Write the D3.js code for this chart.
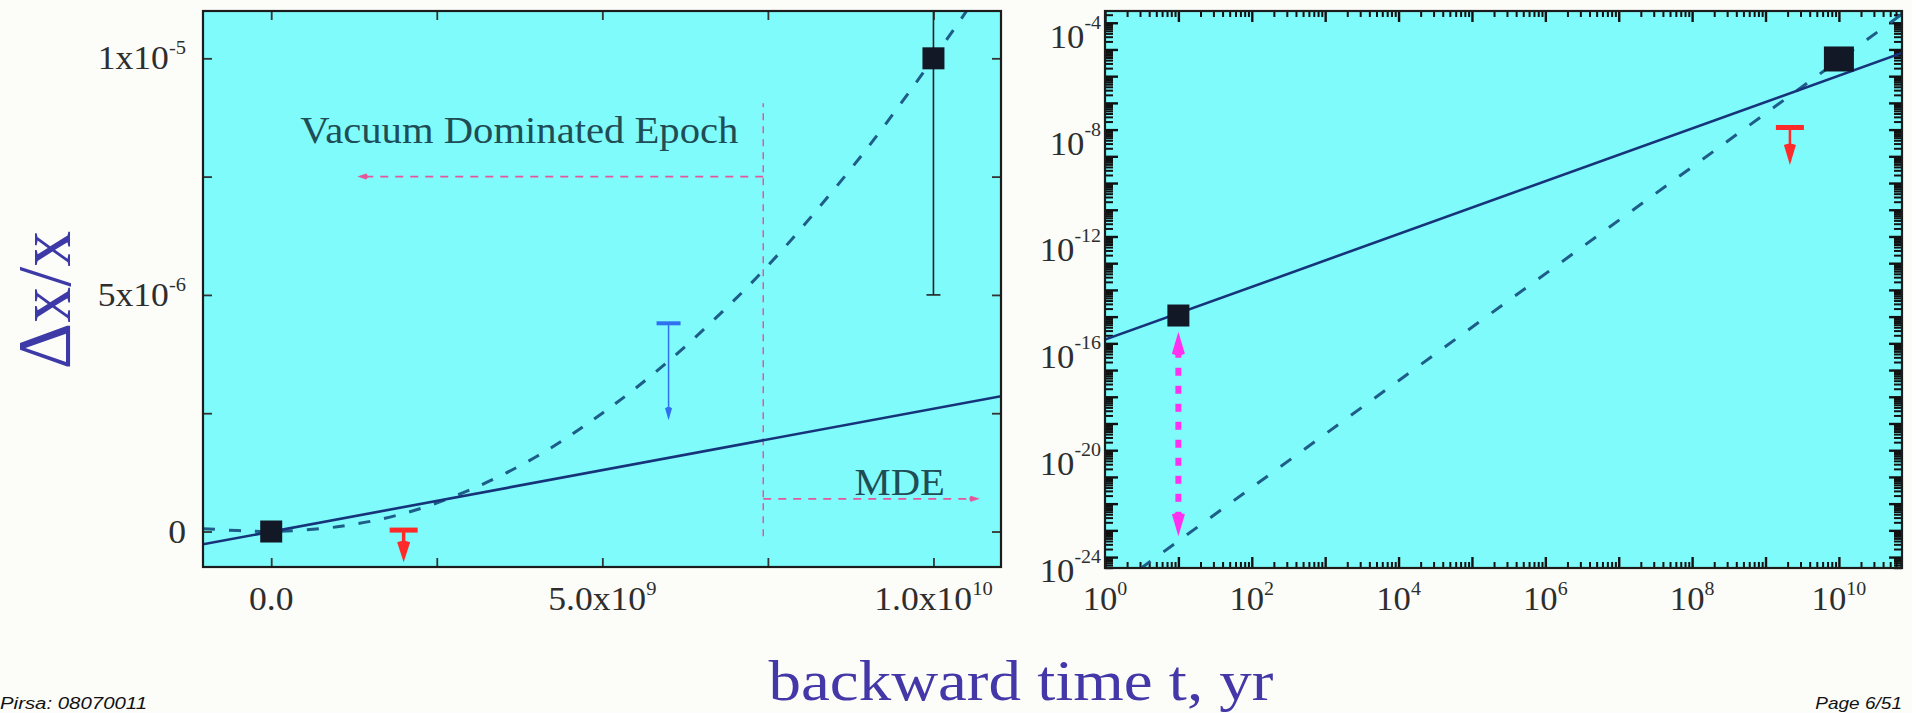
<!DOCTYPE html>
<html><head><meta charset="utf-8">
<script src="https://cdn.jsdelivr.net/npm/d3@7"></script>
<style>
html,body{margin:0;padding:0;background:#fcfdf9;}
svg{display:block;}
</style></head><body>
<svg id="chart" width="1912" height="713"></svg>
<script>
// ================= DATA =================
// ---- left panel (linear) ----
const leftXDomain = [-1.03e9, 11.02e9];
const leftYDomain = [-0.75e-6, 11.0e-6];
const leftXTicks = [0, 2.5e9, 5e9, 7.5e9, 1e10];
const leftYTicks = [0, 2.5e-6, 5e-6, 7.5e-6, 1e-5];
const leftXLabelVals = [0, 5e9, 1e10];
const leftXLabelBase = ["0.0", "5.0x10", "1.0x10"];
const leftXLabelSup = ["", "9", "10"];
const leftYLabelVals = [0, 5e-6, 1e-5];
const leftYLabelBase = ["0", "5x10", "1x10"];
const leftYLabelSup = ["", "-6", "-5"];

const leftPointT = [0, 1e10];
const leftPointV = [0, 1e-5];
const leftErrT = [1e10];
const leftErrLo = [5e-6];
const leftErrHi = [1.5e-5];
const leftSolidT = [-1.03e9, 11.02e9];
const leftSolidV = [-0.27e-6, 2.86e-6];
const leftDashT = [-1.03e9, -0.5e9, 0, 1e9, 2e9, 3e9, 4e9, 5e9, 6e9, 7e9, 7.5e9, 8e9, 9e9, 10e9, 10.5e9];
const leftDashV = [0.06e-6, 0.02e-6, 0, 0.1e-6, 0.38e-6, 0.88e-6, 1.58e-6, 2.5e-6, 3.6e-6, 4.9e-6, 5.62e-6, 6.4e-6, 8.1e-6, 10.0e-6, 11.0e-6];
const leftLimitT = [2e9, 6e9];
const leftLimitTop = [0.03e-6, 4.4e-6];
const leftLimitTip = [-0.65e-6, 2.35e-6];
const leftLimitKind = ["red", "blue"];
const epochT = 7.43e9;
const epochLineV = [-0.1e-6, 9.05e-6];
const vdeArrowV = 7.5e-6;
const vdeArrowT = [7.43e9, 1.3e9];
const mdeArrowV = 0.69e-6;
const mdeArrowT = [7.43e9, 10.7e9];

// ---- right panel (log-log) ----
const rightXDomain = [1, 7.24e10];
const rightYDomain = [3.9e-25, 2.75e-4];
const rightXLabelExp = [0, 2, 4, 6, 8, 10];
const rightYLabelExp = [-4, -8, -12, -16, -20, -24];
const rightPointT = [10, 1e10];
const rightPointV = [1.1e-15, 4.4e-6];
const rightSolidT = [1, 7.24e10];
const rightSolidV = [1.38e-16, 7.4e-6];
const rightDashT = [3, 7.24e10];
const rightDashV = [3.6e-25, 2.1e-4];
const rightLimitT = [2.15e9];
const rightLimitTop = [1.2e-8];
const rightLimitTip = [4.7e-10];
const magentaT = 10;
const magentaV = [2.7e-16, 6e-24];

// ================= DRAWING =================
const svg = d3.select("#chart");
const SERIF = "'Liberation Serif','Times New Roman',Times,serif";
const CYAN = "#80fbfb";
const FRAME = "#1c1c1c";
const SOLID = "#16347a";
const DASH = "#1d5d88";
const PINK = "#e4589a";
const RED = "#ff2a2a";
const BLUE = "#2f6ff0";
const MAGENTA = "#ff30f0";
const TICKTXT = "#2e2e2e";

svg.append("rect").attr("width",1912).attr("height",713).attr("fill","#fcfdf9");

const L = {x0:203, x1:1001, y0:11, y1:567};
const R = {x0:1105, x1:1902, y0:11, y1:568};

const xL = d3.scaleLinear().domain(leftXDomain).range([L.x0, L.x1]);
const yL = d3.scaleLinear().domain(leftYDomain).range([L.y1, L.y0]);
const xR = d3.scaleLog().domain(rightXDomain).range([R.x0, R.x1]);
const yR = d3.scaleLog().domain(rightYDomain).range([R.y1, R.y0]);

const defs = svg.append("defs");
defs.append("clipPath").attr("id","clipL").append("rect")
  .attr("x",L.x0).attr("y",L.y0).attr("width",L.x1-L.x0).attr("height",L.y1-L.y0);
defs.append("clipPath").attr("id","clipR").append("rect")
  .attr("x",R.x0).attr("y",R.y0).attr("width",R.x1-R.x0).attr("height",R.y1-R.y0);

function label(g, x, y, base, sup, o) {
  const t = g.append("text")
    .attr("transform", `translate(${x},${y}) scale(${o.sx||1},1)`)
    .attr("text-anchor", o.anchor || "start")
    .attr("fill", o.fill || TICKTXT)
    .style("font-family", o.family || SERIF)
    .style("font-size", o.size + "px")
    .style("font-style", o.italic ? "italic" : "normal");
  t.append("tspan").text(base);
  if (sup) t.append("tspan").attr("dy", -(o.supDy||15)).style("font-size", (o.supSize||19)+"px").text(sup);
  return t;
}

function arrowHead(g, x, y, dx, dy, w, len, color) {
  const n = Math.hypot(dx,dy); dx/=n; dy/=n;
  const bx = x - dx*len, by = y - dy*len;
  const px = -dy, py = dx;
  g.append("path")
    .attr("d", `M${x},${y} L${bx+px*w/2},${by+py*w/2} Q${bx-dx*3},${by-dy*3} ${bx-px*w/2},${by-py*w/2} Z`)
    .attr("fill", color);
}

// ---------- LEFT PANEL ----------
const gL = svg.append("g");
gL.append("rect").attr("x",L.x0).attr("y",L.y0).attr("width",L.x1-L.x0).attr("height",L.y1-L.y0).attr("fill",CYAN);

const axBL = gL.append("g").attr("transform",`translate(0,${L.y1})`)
  .call(d3.axisBottom(xL).tickValues(leftXTicks).tickSize(-9).tickFormat(""));
const axTL = gL.append("g").attr("transform",`translate(0,${L.y0})`)
  .call(d3.axisTop(xL).tickValues(leftXTicks).tickSize(-9).tickFormat(""));
const axLL = gL.append("g").attr("transform",`translate(${L.x0},0)`)
  .call(d3.axisLeft(yL).tickValues(leftYTicks).tickSize(-9).tickFormat(""));
const axRL = gL.append("g").attr("transform",`translate(${L.x1},0)`)
  .call(d3.axisRight(yL).tickValues(leftYTicks).tickSize(-9).tickFormat(""));
[axBL,axTL,axLL,axRL].forEach(a=>{a.select(".domain").remove(); a.selectAll("line").attr("stroke","#333").attr("stroke-width",1.8);});

const cL = gL.append("g").attr("clip-path","url(#clipL)");

cL.append("line").attr("x1",xL(epochT)).attr("x2",xL(epochT)).attr("y1",yL(epochLineV[0])).attr("y2",yL(epochLineV[1]))
  .attr("stroke",PINK).attr("stroke-width",1.5).attr("stroke-dasharray","7,6");
cL.append("line").attr("x1",xL(vdeArrowT[0])).attr("x2",xL(vdeArrowT[1])+6).attr("y1",yL(vdeArrowV)).attr("y2",yL(vdeArrowV))
  .attr("stroke",PINK).attr("stroke-width",1.8).attr("stroke-dasharray","8,7");
arrowHead(cL, xL(vdeArrowT[1]), yL(vdeArrowV), -1, 0, 6, 9, PINK);
cL.append("line").attr("x1",xL(mdeArrowT[0])).attr("x2",xL(mdeArrowT[1])-6).attr("y1",yL(mdeArrowV)).attr("y2",yL(mdeArrowV))
  .attr("stroke",PINK).attr("stroke-width",1.8).attr("stroke-dasharray","8,7");
arrowHead(cL, xL(mdeArrowT[1]), yL(mdeArrowV), 1, 0, 6, 9, PINK);

const dashDataL = leftDashT.map((t,i)=>[t,leftDashV[i]]);
cL.append("path").datum(dashDataL)
  .attr("d", d3.line().x(d=>xL(d[0])).y(d=>yL(d[1])).curve(d3.curveCatmullRom))
  .attr("fill","none").attr("stroke",DASH).attr("stroke-width",3).attr("stroke-dasharray","12,14");

const solidDataL = leftSolidT.map((t,i)=>[t,leftSolidV[i]]);
cL.append("path").datum(solidDataL)
  .attr("d", d3.line().x(d=>xL(d[0])).y(d=>yL(d[1])))
  .attr("fill","none").attr("stroke",SOLID).attr("stroke-width",2.6);

leftErrT.forEach((t,i)=>{
  cL.append("line").attr("x1",xL(t)).attr("x2",xL(t)).attr("y1",yL(leftErrLo[i])).attr("y2",yL(leftErrHi[i]))
    .attr("stroke","#222").attr("stroke-width",1.6);
  cL.append("line").attr("x1",xL(t)-7).attr("x2",xL(t)+7).attr("y1",yL(leftErrLo[i])).attr("y2",yL(leftErrLo[i]))
    .attr("stroke","#222").attr("stroke-width",1.6);
});

leftLimitT.forEach((t,i)=>{
  const x = xL(t), yt = yL(leftLimitTop[i]), yb = yL(leftLimitTip[i]);
  if (leftLimitKind[i] === "red") {
    cL.append("rect").attr("x",x-14).attr("y",yt-2.5).attr("width",28).attr("height",5).attr("fill",RED);
    cL.append("line").attr("x1",x).attr("x2",x).attr("y1",yt).attr("y2",yb-14).attr("stroke",RED).attr("stroke-width",3.5);
    arrowHead(cL, x, yb, 0, 1, 13, 20, RED);
  } else {
    cL.append("rect").attr("x",x-12).attr("y",yt-2).attr("width",24).attr("height",4).attr("fill",BLUE);
    cL.append("line").attr("x1",x).attr("x2",x).attr("y1",yt).attr("y2",yb-8).attr("stroke",BLUE).attr("stroke-width",1.5);
    arrowHead(cL, x, yb, 0, 1, 7, 12, BLUE);
  }
});

leftPointT.forEach((t,i)=>{
  cL.append("rect").attr("x",xL(t)-11).attr("y",yL(leftPointV[i])-11).attr("width",22).attr("height",22).attr("fill","#121826");
});

label(cL, xL(0.44e9), yL(8.22e-6), "Vacuum Dominated Epoch", "", {size:38, sx:1.07, fill:"#1f4d55"});
label(cL, xL(9.49e9), yL(0.78e-6), "MDE", "", {size:38, sx:1.07, fill:"#1f4d55", anchor:"middle"});

gL.append("rect").attr("x",L.x0).attr("y",L.y0).attr("width",L.x1-L.x0).attr("height",L.y1-L.y0)
  .attr("fill","none").attr("stroke",FRAME).attr("stroke-width",2.2);

leftXLabelVals.forEach((v,i)=>{
  label(gL, xL(v), 610, leftXLabelBase[i], leftXLabelSup[i], {size:33, sx:1.08, anchor:"middle", supDy:15, supSize:19});
});
leftYLabelVals.forEach((v,i)=>{
  label(gL, 186, yL(v)+11, leftYLabelBase[i], leftYLabelSup[i], {size:33, sx:1.08, anchor:"end", supDy:15, supSize:19});
});

// ---------- RIGHT PANEL ----------
const gR = svg.append("g");
gR.append("rect").attr("x",R.x0).attr("y",R.y0).attr("width",R.x1-R.x0).attr("height",R.y1-R.y0).attr("fill",CYAN);

function logTicks(domain) {
  const lo = Math.floor(Math.log10(domain[0])), hi = Math.ceil(Math.log10(domain[1]));
  const major = [], minor = [];
  for (let e = lo; e <= hi; e++) {
    const b = Math.pow(10, e);
    if (b >= domain[0]*0.999 && b <= domain[1]*1.001) major.push(b);
    for (let m = 2; m <= 9; m++) { const v = m*b; if (v >= domain[0] && v <= domain[1]) minor.push(v); }
  }
  return {major, minor};
}
const tx = logTicks(rightXDomain), ty = logTicks(rightYDomain);
function tickAxis(g, axisFn, scale, vals, size, tr, w) {
  const a = g.append("g").attr("transform", tr).call(axisFn(scale).tickValues(vals).tickSize(-size).tickFormat(""));
  a.select(".domain").remove();
  a.selectAll("line").attr("stroke","#111").attr("stroke-width",w);
}
tickAxis(gR, d3.axisBottom, xR, tx.major, 11, `translate(0,${R.y1})`, 2.4);
tickAxis(gR, d3.axisBottom, xR, tx.minor, 6, `translate(0,${R.y1})`, 2);
tickAxis(gR, d3.axisTop, xR, tx.major, 11, `translate(0,${R.y0})`, 2.4);
tickAxis(gR, d3.axisTop, xR, tx.minor, 6, `translate(0,${R.y0})`, 2);
tickAxis(gR, d3.axisLeft, yR, ty.major, 13, `translate(${R.x0},0)`, 2.4);
tickAxis(gR, d3.axisLeft, yR, ty.minor, 8, `translate(${R.x0},0)`, 2);
tickAxis(gR, d3.axisRight, yR, ty.major, 13, `translate(${R.x1},0)`, 2.4);
tickAxis(gR, d3.axisRight, yR, ty.minor, 8, `translate(${R.x1},0)`, 2);

const cR = gR.append("g").attr("clip-path","url(#clipR)");

cR.append("path").datum(rightDashT.map((t,i)=>[t,rightDashV[i]]))
  .attr("d", d3.line().x(d=>xR(d[0])).y(d=>yR(d[1])))
  .attr("fill","none").attr("stroke",DASH).attr("stroke-width",3).attr("stroke-dasharray","13,16");
cR.append("path").datum(rightSolidT.map((t,i)=>[t,rightSolidV[i]]))
  .attr("d", d3.line().x(d=>xR(d[0])).y(d=>yR(d[1])))
  .attr("fill","none").attr("stroke",SOLID).attr("stroke-width",2.6);

{
  const x = xR(magentaT), ya = yR(magentaV[0]), yb = yR(magentaV[1]);
  cR.append("line").attr("x1",x).attr("x2",x).attr("y1",ya+18).attr("y2",yb-18)
    .attr("stroke",MAGENTA).attr("stroke-width",6).attr("stroke-dasharray","8,10");
  arrowHead(cR, x, ya, 0, -1, 13, 22, MAGENTA);
  arrowHead(cR, x, yb, 0, 1, 13, 22, MAGENTA);
}

rightLimitT.forEach((t,i)=>{
  const x = xR(t), yt = yR(rightLimitTop[i]), yb = yR(rightLimitTip[i]);
  cR.append("rect").attr("x",x-14).attr("y",yt-2.5).attr("width",28).attr("height",5).attr("fill",RED);
  cR.append("line").attr("x1",x).attr("x2",x).attr("y1",yt).attr("y2",yb-14).attr("stroke",RED).attr("stroke-width",2.5);
  arrowHead(cR, x, yb, 0, 1, 12, 20, RED);
});

const rSizes = [[22,22],[30,25]];
rightPointT.forEach((t,i)=>{
  const [w,h] = rSizes[i];
  cR.append("rect").attr("x",xR(t)-w/2).attr("y",yR(rightPointV[i])-h/2).attr("width",w).attr("height",h).attr("fill","#121826");
});

gR.append("rect").attr("x",R.x0).attr("y",R.y0).attr("width",R.x1-R.x0).attr("height",R.y1-R.y0)
  .attr("fill","none").attr("stroke",FRAME).attr("stroke-width",2.2);

rightXLabelExp.forEach(e=>{
  label(gR, xR(Math.pow(10,e)), 610, "10", String(e), {size:33, sx:1.05, anchor:"middle", supDy:15, supSize:19});
});
rightYLabelExp.forEach(e=>{
  label(gR, 1101, yR(Math.pow(10,e))+25, "10", String(e), {size:33, sx:1.05, anchor:"end", supDy:19, supSize:19});
});

// ---------- axis titles & footer ----------
svg.append("text").attr("transform","translate(70,300) rotate(-90) scale(1,1.05)")
  .attr("text-anchor","middle").attr("fill","#3d3aa8")
  .style("font-family",SERIF).style("font-size","72px").text("Δx/x");
label(svg, 1021, 700, "backward time t, yr", "", {size:56, sx:1.16, anchor:"middle", fill:"#4438a8"});
label(svg, 0, 709, "Pirsa: 08070011", "", {size:17, sx:1.2, italic:true, fill:"#111", family:"'Liberation Sans',Arial,sans-serif"});
label(svg, 1902, 709, "Page 6/51", "", {size:17, sx:1.12, italic:true, anchor:"end", fill:"#111", family:"'Liberation Sans',Arial,sans-serif"});
</script>
</body></html>
